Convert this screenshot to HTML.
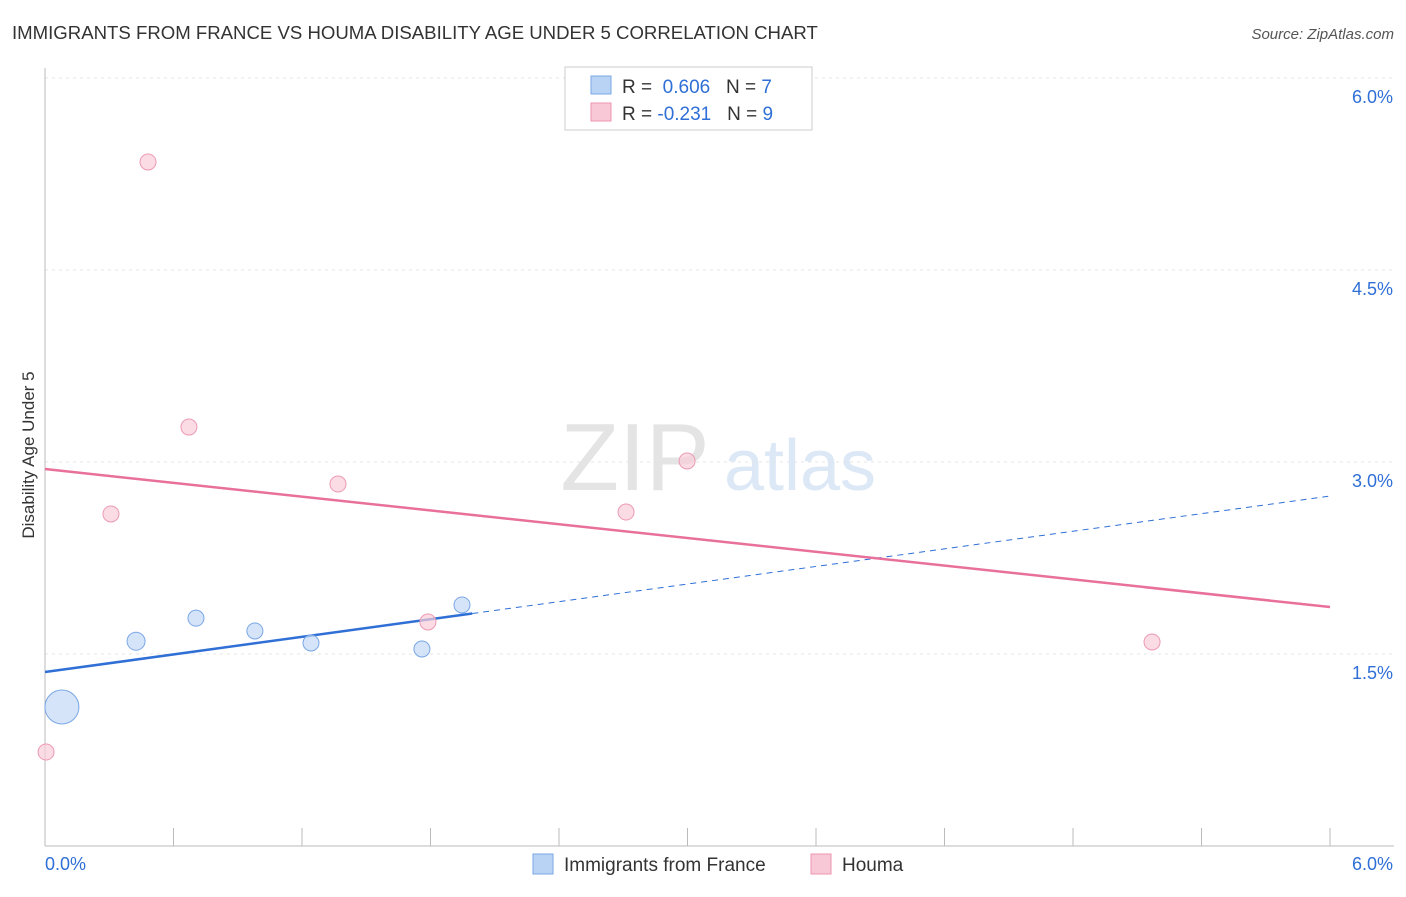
<!DOCTYPE html>
<html><head><meta charset="utf-8"><style>
body{margin:0;background:#fff;font-family:"Liberation Sans",sans-serif;}
svg text{font-family:"Liberation Sans",sans-serif;}
</style></head><body>
<svg id="chart" width="1406" height="892" xmlns="http://www.w3.org/2000/svg">
<text x="12" y="39" font-size="18.6" fill="#333">IMMIGRANTS FROM FRANCE VS HOUMA DISABILITY AGE UNDER 5 CORRELATION CHART</text>
<text x="1394" y="39" font-size="15" fill="#555" font-style="italic" text-anchor="end">Source: ZipAtlas.com</text>
<text x="34" y="455" font-size="17" fill="#333" text-anchor="middle" transform="rotate(-90 34 455)">Disability Age Under 5</text>
<g><text x="635" y="490" font-size="96" fill="#e4e4e4" font-family="Liberation Serif" text-anchor="middle">ZIP</text><text x="800" y="490" font-size="72" fill="#dce8f6" text-anchor="middle">atlas</text></g>
<g id="grid"></g><g id="axes"></g><g id="lines"></g><g id="pts"></g>
<g>
<rect x="565" y="67" width="247" height="63" fill="#fff" stroke="#ccc"/>
<rect x="591" y="76" width="20" height="18" fill="#b9d3f5" stroke="#7aa7e6"/>
<text x="622" y="93" font-size="19" fill="#333">R = <tspan fill="#2f6fd6">&#160;0.606</tspan>&#160;&#160;&#160;N = <tspan fill="#2f6fd6">7</tspan></text>
<rect x="591" y="103" width="20" height="18" fill="#f9c8d6" stroke="#ec94ae"/>
<text x="622" y="120" font-size="19" fill="#333">R = <tspan fill="#2f6fd6">-0.231</tspan>&#160;&#160;&#160;N = <tspan fill="#2f6fd6">9</tspan></text>
</g>
<g>
<rect x="533" y="854" width="20" height="20" fill="#b9d3f5" stroke="#7aa7e6"/>
<text x="564" y="871" font-size="19" fill="#333">Immigrants from France</text>
<rect x="811" y="854" width="20" height="20" fill="#f9c8d6" stroke="#ec94ae"/>
<text x="842" y="871" font-size="19" fill="#333">Houma</text>
</g>
</svg>
<script>
const yTicks=[1.5,3.0,4.5,6.0];
const blueX=[0.079,0.425,0.705,0.98,1.242,1.76,1.947];
const blueY=[1.086,1.60,1.78,1.68,1.586,1.539,1.883];
const blueR=[17,9,8,8,8,8,8];
const pinkX=[0.005,0.308,0.481,0.672,1.368,1.788,2.713,2.998,5.169];
const pinkY=[0.734,2.594,5.344,3.273,2.828,1.75,2.609,3.008,1.594];
const blueFit=[1.359,2.734];
const blueSolidEnd=1.995;
const pinkFit=[2.945,1.867];
const NS="http://www.w3.org/2000/svg";
const X=v=>45+v*214.17, Y=v=>846-v*128;
function mk(p,t,a){const e=document.createElementNS(NS,t);for(const k in a)e.setAttribute(k,a[k]);document.getElementById(p).appendChild(e);return e;}
yTicks.forEach(t=>{
 const l=mk('grid','line',{x1:45,x2:1394,y1:Y(t),y2:Y(t),stroke:'#e4e4e4','stroke-dasharray':'3,4'});
 
 
 const tx=mk('grid','text',{x:1393,y:Y(t)+25,'font-size':18,fill:'#2f6fd6','text-anchor':'end'});tx.textContent=t.toFixed(1)+'%';
 
 
});
mk('axes','line',{x1:45,x2:45,y1:68,y2:846,stroke:'#bbb'});
mk('axes','line',{x1:45,x2:1394,y1:846,y2:846,stroke:'#bbb'});
for(let i=0;i<=10;i++){mk('axes','line',{x1:X(i*0.6),x2:X(i*0.6),y1:828,y2:846,stroke:'#bbb'});}
let t0=mk('axes','text',{x:45,y:870,'font-size':18,fill:'#2f6fd6'});t0.textContent='0.0%';


let t1=mk('axes','text',{x:1393,y:870,'font-size':18,fill:'#2f6fd6','text-anchor':'end'});t1.textContent='6.0%';


const by=v=>blueFit[0]+(blueFit[1]-blueFit[0])*v/6;
let bl=mk('lines','line',{x1:X(0),y1:Y(by(0)),x2:X(blueSolidEnd),y2:Y(by(blueSolidEnd)),stroke:'#2f6fd6','stroke-width':2.5});


let bd=mk('lines','line',{x1:X(blueSolidEnd),y1:Y(by(blueSolidEnd)),x2:X(6),y2:Y(by(6)),stroke:'#2f6fd6','stroke-width':1,'stroke-dasharray':'6,5'});


let pl=mk('lines','line',{x1:X(0),y1:Y(pinkFit[0]),x2:X(6),y2:Y(pinkFit[1]),stroke:'#e8709a','stroke-width':2.5});


pinkX.forEach((x,i)=>{const c=mk('pts','circle',{cx:X(x),cy:Y(pinkY[i]),r:8,fill:'#f9cdd9','fill-opacity':0.7,stroke:'#ec9ab3'});
 
 });
blueX.forEach((x,i)=>{const c=mk('pts','circle',{cx:X(x),cy:Y(blueY[i]),r:blueR[i],fill:'#c3d9f5','fill-opacity':0.7,stroke:'#7aa7e6'});
 
 });
</script>
</body></html>
